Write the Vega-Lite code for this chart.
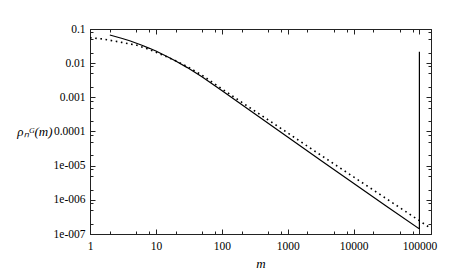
{
  "$schema": "https://vega.github.io/schema/vega-lite/v6.json",
  "width": 341,
  "height": 205,
  "autosize": "none",
  "padding": {"left": 90, "top": 29, "right": 25, "bottom": 45},
  "background": "white",
  "config": {
    "view": {"stroke": "#222", "strokeWidth": 1},
    "axis": {
      "domainColor": "#222",
      "tickColor": "#222",
      "tickWidth": 1,
      "grid": false,
      "labelFont": "Liberation Serif",
      "labelFontSize": 11.5,
      "labelColor": "black",
      "titleFont": "Liberation Serif",
      "titleFontSize": 13,
      "titleFontWeight": "normal",
      "titleColor": "black",
      "tickSize": {"condition": {"test": "abs(log(datum.value)/LN10 - round(log(datum.value)/LN10)) < 1e-6", "value": -5}, "value": -3}
    }
  },
  "layer": [
    {
      "data": {"values": [
        {"m": 2, "p": 0.0667},
        {"m": 3, "p": 0.0537},
        {"m": 4, "p": 0.0452},
        {"m": 6, "p": 0.0339},
        {"m": 8, "p": 0.0272},
        {"m": 10, "p": 0.0226},
        {"m": 15, "p": 0.0155},
        {"m": 20, "p": 0.0116},
        {"m": 30, "p": 0.00741},
        {"m": 50, "p": 0.00398},
        {"m": 100, "p": 0.00158},
        {"m": 316, "p": 0.000331},
        {"m": 1000, "p": 0.0000692},
        {"m": 3162, "p": 0.0000145},
        {"m": 10000, "p": 0.00000305},
        {"m": 31623, "p": 0.000000646},
        {"m": 99999, "p": 0.000000141},
        {"m": 100000, "p": 0.0217}
      ]},
      "mark": {"type": "line", "color": "black", "strokeWidth": 1.2, "clip": true},
      "encoding": {
        "x": {
          "field": "m", "type": "quantitative",
          "scale": {"type": "log", "domain": [1, 150000], "nice": false},
          "axis": {
            "orient": "bottom",
            "values": [1,2,5,8,10,20,50,80,100,200,500,800,1000,2000,5000,8000,10000,20000,50000,80000,100000],
            "labelExpr": "abs(log(datum.value)/LN10 - round(log(datum.value)/LN10)) < 1e-6 ? format(datum.value, 'd') : ''",
            "labelPadding": 11,
            "labelFlush": false,
            "labelOverlap": false,
            "title": "m",
            "titleFontStyle": "italic",
            "titleY": 33,
            "titleBaseline": "alphabetic"
          }
        },
        "y": {
          "field": "p", "type": "quantitative",
          "scale": {"type": "log", "domain": [0.0000001, 0.1], "nice": false},
          "axis": {
            "orient": "left",
            "values": [1e-7,2e-7,5e-7,8e-7,1e-6,2e-6,5e-6,8e-6,1e-5,2e-5,5e-5,8e-5,1e-4,2e-4,5e-4,8e-4,1e-3,2e-3,5e-3,8e-3,1e-2,2e-2,5e-2,8e-2,1e-1],
            "labelExpr": "abs(log(datum.value)/LN10 - round(log(datum.value)/LN10)) < 1e-6 ? (round(log(datum.value)/LN10) >= -4 ? format(datum.value, '.' + (-round(log(datum.value)/LN10)) + 'f') : '1e-00' + (-round(log(datum.value)/LN10))) : ''",
            "labelPadding": 10,
            "labelFlush": false,
            "labelOverlap": false,
            "title": "ρₙᴳ(m)",
            "titleFontStyle": "italic",
            "titleAngle": 0,
            "titleAlign": "right",
            "titleBaseline": "middle",
            "titleX": -38,
            "titleY": 102
          }
        }
      }
    },
    {
      "data": {"values": [
        {"m": 1, "p": 0.0556},
        {"m": 1.5, "p": 0.0513},
        {"m": 2, "p": 0.0468},
        {"m": 3, "p": 0.0407},
        {"m": 5, "p": 0.0339},
        {"m": 7, "p": 0.0275},
        {"m": 10, "p": 0.0209},
        {"m": 15, "p": 0.0151},
        {"m": 20, "p": 0.0117},
        {"m": 30, "p": 0.00794},
        {"m": 50, "p": 0.00447},
        {"m": 100, "p": 0.00178},
        {"m": 300, "p": 0.000427},
        {"m": 1000, "p": 0.0000912},
        {"m": 3000, "p": 0.0000219},
        {"m": 10000, "p": 0.00000468},
        {"m": 30000, "p": 0.00000115},
        {"m": 100000, "p": 0.000000245},
        {"m": 150000, "p": 0.000000145}
      ]},
      "mark": {"type": "line", "color": "black", "strokeWidth": 1.6, "strokeDash": [1.6, 3.6], "strokeCap": "butt", "clip": true},
      "encoding": {
        "x": {
          "field": "m", "type": "quantitative",
          "scale": {"type": "log", "domain": [1, 150000], "nice": false},
          "axis": {
            "orient": "top",
            "values": [1,2,5,8,10,20,50,80,100,200,500,800,1000,2000,5000,8000,10000,20000,50000,80000,100000],
            "labels": false,
            "title": null
          }
        },
        "y": {
          "field": "p", "type": "quantitative",
          "scale": {"type": "log", "domain": [0.0000001, 0.1], "nice": false},
          "axis": {
            "orient": "right",
            "values": [1e-7,2e-7,5e-7,8e-7,1e-6,2e-6,5e-6,8e-6,1e-5,2e-5,5e-5,8e-5,1e-4,2e-4,5e-4,8e-4,1e-3,2e-3,5e-3,8e-3,1e-2,2e-2,5e-2,8e-2,1e-1],
            "labels": false,
            "title": null
          }
        }
      }
    }
  ],
  "resolve": {"axis": {"x": "independent", "y": "independent"}}
}
